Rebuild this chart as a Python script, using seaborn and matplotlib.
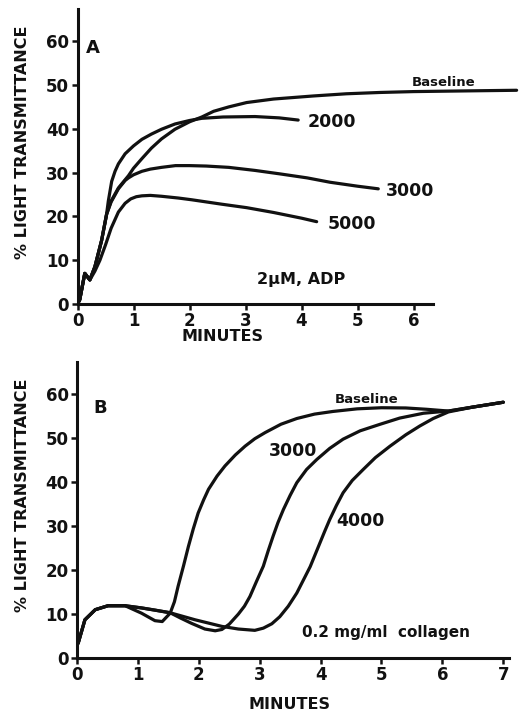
import pandas as pd
import matplotlib
matplotlib.use("Agg")
import matplotlib.pyplot as plt
import seaborn as sns

# Panel A - 2 uM ADP, light transmittance (%) vs minutes
a_base_x = [0, 0.04, 0.13, 0.22, 0.31, 0.43, 0.52, 0.6, 0.73, 0.91, 1.0, 1.15, 1.32, 1.5, 1.74, 2.0,
            2.22, 2.43, 2.7, 3.02, 3.5, 4.21, 4.8, 5.4, 6.0, 6.59, 7.2, 7.84]
a_base_y = [0, 1, 7, 5.5, 8.5, 14.5, 20.5, 23.5, 26.5, 29.3, 31.0, 33.2, 35.6, 37.7, 39.9, 41.6,
            42.7, 44.0, 45.0, 46.0, 46.8, 47.5, 48.0, 48.3, 48.5, 48.6, 48.7, 48.8]
a_2000_x = [0, 0.04, 0.13, 0.22, 0.31, 0.43, 0.52, 0.55, 0.61, 0.67, 0.73, 0.85, 1.0, 1.15, 1.32,
            1.5, 1.74, 2.0, 2.22, 2.6, 3.17, 3.6, 3.94]
a_2000_y = [0, 1, 7, 5.5, 8.5, 14.5, 20.6, 23.5, 28, 30.3, 32, 34.3, 36.1, 37.6, 38.8,
            39.9, 41.1, 41.9, 42.4, 42.7, 42.8, 42.5, 42.0]
a_3000_x = [0, 0.04, 0.13, 0.22, 0.31, 0.43, 0.52, 0.6, 0.73, 0.85, 0.91, 1.0, 1.15, 1.3, 1.5,
            1.75, 2.0, 2.3, 2.7, 3.17, 3.62, 4.1, 4.51, 5.0, 5.37]
a_3000_y = [0, 1, 7, 5.5, 8.5, 14.5, 20.5, 23.3, 26.3, 28.2, 28.8, 29.5, 30.3, 30.8, 31.2,
            31.6, 31.6, 31.5, 31.2, 30.5, 29.7, 28.8, 27.8, 26.9, 26.3]
a_5000_x = [0, 0.04, 0.13, 0.22, 0.31, 0.4, 0.5, 0.6, 0.73, 0.85, 0.95, 1.05, 1.15, 1.3, 1.5,
            1.8, 2.04, 2.57, 3.02, 3.5, 4.0, 4.27]
a_5000_y = [0, 1, 7, 5.5, 7.5, 10, 13.5, 17.3, 21, 23, 24, 24.5, 24.7, 24.8, 24.6,
            24.2, 23.8, 22.8, 22.0, 20.9, 19.6, 18.8]

# Panel B - 0.2 mg/ml collagen
b_base_x = [0, 0.02, 0.13, 0.3, 0.51, 0.79, 1.06, 1.28, 1.4, 1.53, 1.6, 1.66, 1.75, 1.83, 1.91,
            1.99, 2.08, 2.16, 2.3, 2.43, 2.6, 2.76, 2.92, 3.09, 3.35, 3.61, 3.9, 4.2, 4.6,
            5.0, 5.4, 5.74, 6.1, 6.5, 7.0]
b_base_y = [3, 3.4, 8.7, 11.0, 11.9, 11.9, 10.2, 8.5, 8.3, 10.2, 12.8, 16.3, 21.0, 25.4, 29.4,
            33, 36.0, 38.4, 41.4, 43.7, 46.2, 48.2, 49.9, 51.3, 53.2, 54.5, 55.5, 56.1, 56.7,
            56.95, 56.9, 56.6, 56.2, 57.1, 58.2]
b_3000_x = [0, 0.02, 0.13, 0.3, 0.51, 0.79, 1.06, 1.28, 1.53, 1.7, 1.88, 2.1, 2.27, 2.38, 2.5,
            2.65, 2.75, 2.84, 2.95, 3.06, 3.14, 3.22, 3.3, 3.39, 3.5, 3.61, 3.77, 3.94, 4.15,
            4.37, 4.65, 4.98, 5.3, 5.69, 6.1, 6.5, 7.0]
b_3000_y = [3, 3.4, 8.7, 11.0, 11.9, 11.9, 11.4, 10.9, 10.3, 9.1, 7.9, 6.6, 6.2, 6.5, 7.7,
            10, 11.8, 14, 17.5, 20.9, 24.4, 27.7, 30.8, 33.8, 37.0, 39.9, 42.9, 45.2, 47.7,
            49.8, 51.7, 53.2, 54.6, 55.7, 56.2, 57.1, 58.2]
b_4000_x = [0, 0.02, 0.13, 0.3, 0.51, 0.79, 1.06, 1.28, 1.53, 1.94, 2.38, 2.65, 2.92, 3.06, 3.2,
            3.33, 3.47, 3.61, 3.72, 3.83, 3.91, 3.99, 4.07, 4.15, 4.26, 4.37, 4.52, 4.7, 4.9,
            5.14, 5.4, 5.63, 5.85, 6.1, 6.5, 7.0]
b_4000_y = [3, 3.4, 8.7, 11.0, 11.9, 11.9, 11.4, 10.9, 10.3, 8.7, 7.2, 6.6, 6.3, 6.8, 7.8,
            9.4, 11.8, 14.8, 17.8, 20.8, 23.5, 26.2, 28.9, 31.5, 34.7, 37.6, 40.4, 42.9, 45.6,
            48.2, 50.8, 52.8, 54.5, 56.0, 57.1, 58.2]

yticks = [0, 10, 20, 30, 40, 50, 60]


def long_df(curves):
    frames = []
    for name, xs, ys in curves:
        frames.append(pd.DataFrame({"min": xs, "T": ys, "curve": name}))
    return pd.concat(frames, ignore_index=True)


df_a = long_df([("Baseline", a_base_x, a_base_y), ("2000", a_2000_x, a_2000_y),
                ("3000", a_3000_x, a_3000_y), ("5000", a_5000_x, a_5000_y)])
df_b = long_df([("Baseline", b_base_x, b_base_y), ("3000", b_3000_x, b_3000_y),
                ("4000", b_4000_x, b_4000_y)])

sns.set_style("ticks")
plt.rcParams["font.family"] = ["DejaVu Sans"]
plt.rcParams["font.weight"] = "bold"

ink = "#111111"
fig = plt.figure(figsize=(5.23, 7.11), dpi=100)
ax_a = fig.add_axes([0.1482, 0.5724, 0.846, 0.4146])
ax_b = fig.add_axes([0.1472, 0.0745, 0.8325, 0.416])

for ax, df, xmax, xend, nt in [(ax_a, df_a, 7.9, 6.35, 7), (ax_b, df_b, 7.15, 7.1, 8)]:
    sns.lineplot(data=df, x="min", y="T", hue="curve", units="curve", estimator=None,
                 sort=False, palette=[ink] * df["curve"].nunique(), linewidth=2.3,
                 legend=False, ax=ax)
    for ln in ax.get_lines():
        ln.set_solid_joinstyle("round")
        ln.set_solid_capstyle("round")
    ax.set_xlim(0, xmax)
    ax.set_ylim(0, 67.3)
    ax.set_xticks(range(nt))
    ax.set_yticks(yticks)
    sns.despine(ax=ax)
    ax.spines["bottom"].set_bounds(0, xend)
    for s in ["left", "bottom"]:
        ax.spines[s].set_linewidth(2.2)
        ax.spines[s].set_color(ink)
    ax.tick_params(axis="both", direction="out", length=4, width=1.8, color=ink,
                   labelsize=12, labelcolor=ink, pad=2)
    for lab in ax.get_xticklabels() + ax.get_yticklabels():
        lab.set_fontweight("bold")
    ax.set_ylabel("% LIGHT TRANSMITTANCE", fontsize=11.5, fontweight="bold", color=ink)
    ax.set_xlabel("MINUTES", fontsize=11.5, fontweight="bold", color=ink)

ax_a.yaxis.set_label_coords(-0.107, 0.55)
ax_a.xaxis.set_label_coords(0.327, -0.085)
ax_b.yaxis.set_label_coords(-0.108, 0.55)
ax_b.xaxis.set_label_coords(0.489, -0.132)

# panel A annotations
ax_a.text(0.27, 58.4, "A", fontsize=13, fontweight="bold", ha="center", va="center", color=ink)
ax_a.text(6.53, 50.6, "Baseline", fontsize=9.5, fontweight="bold", ha="center", va="center", color=ink)
ax_a.text(4.54, 41.6, "2000", fontsize=12.5, fontweight="bold", ha="center", va="center", color=ink)
ax_a.text(5.94, 25.9, "3000", fontsize=12.5, fontweight="bold", ha="center", va="center", color=ink)
ax_a.text(4.9, 18.3, "5000", fontsize=12.5, fontweight="bold", ha="center", va="center", color=ink)
ax_a.text(4.0, 5.5, "2\u03bcM, ADP", fontsize=11.5, fontweight="bold", ha="center", va="center", color=ink)

# panel B annotations
ax_b.text(0.38, 57, "B", fontsize=13, fontweight="bold", ha="center", va="center", color=ink)
ax_b.text(4.76, 58.9, "Baseline", fontsize=9.5, fontweight="bold", ha="center", va="center", color=ink)
ax_b.text(3.55, 47.1, "3000", fontsize=12.5, fontweight="bold", ha="center", va="center", color=ink)
ax_b.text(4.65, 31.1, "4000", fontsize=12.5, fontweight="bold", ha="center", va="center", color=ink)
ax_b.text(5.07, 5.7, "0.2 mg/ml  collagen", fontsize=11, fontweight="bold", ha="center", va="center", color=ink)

fig.savefig("out.png", dpi=100)
